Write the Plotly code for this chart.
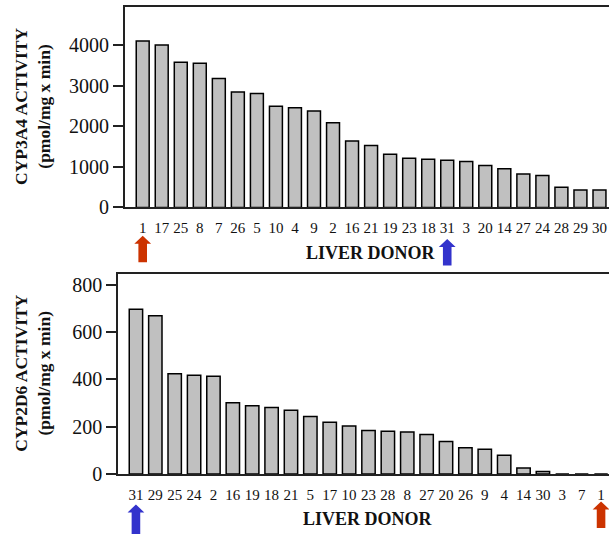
import plotly.graph_objects as go

W, H = 609, 542

# Top panel: CYP3A4
donors_3a4 = ["1", "17", "25", "8", "7", "26", "5", "10", "4", "9", "2", "16", "21",
              "19", "23", "18", "31", "3", "20", "14", "27", "24", "28", "29", "30"]
act_3a4 = [4100, 4000, 3580, 3555, 3175, 2845, 2810, 2490, 2455, 2375, 2085, 1635, 1527,
           1310, 1212, 1188, 1164, 1132, 1035, 955, 824, 785, 495, 430, 430]
ticks_3a4 = [0, 1000, 2000, 3000, 4000]

# Bottom panel: CYP2D6
donors_2d6 = ["31", "29", "25", "24", "2", "16", "19", "18", "21", "5", "17", "10", "23",
              "28", "8", "27", "20", "26", "9", "4", "14", "30", "3", "7", "1"]
act_2d6 = [696, 669, 423, 417, 413, 301, 288, 281, 269, 243, 218, 203, 184,
           180, 177, 167, 137, 111, 104, 79, 25, 10, 0, 0, 0]
ticks_2d6 = [0, 200, 400, 600, 800]

BAR = "#c0c0c0"
RED = "#cc3300"
BLUE = "#3333cc"
SERIF = "Liberation Serif"

# domains (pixel based)
x1dom = [125 / W, 1.0]
y1dom = [1 - 211.7 / H, 1 - 6.7 / H]
x2dom = [118.3 / W, 1.0]
y2dom = [1 - 483.7 / H, 1 - 279.3 / H]
x1rng = [-0.93, 24.5]
x2rng = [-0.91, 24.41]

fig = go.Figure()
fig.add_trace(go.Bar(x=donors_3a4, y=act_3a4, xaxis="x", yaxis="y",
                     marker=dict(color=BAR, line=dict(color="black", width=1.5)),
                     width=0.68, showlegend=False))
fig.add_trace(go.Bar(x=donors_2d6, y=act_2d6, xaxis="x2", yaxis="y2",
                     marker=dict(color=BAR, line=dict(color="black", width=1.5)),
                     width=0.69, showlegend=False))

axcommon = dict(showline=True, linecolor="#222", linewidth=2, showgrid=False, zeroline=False)
xtickfont = dict(family=SERIF, size=15, color="#111")
ytickfont = dict(family=SERIF, size=20, color="#111")
fig.update_layout(
    width=W, height=H, margin=dict(l=0, r=0, t=0, b=0),
    paper_bgcolor="white", plot_bgcolor="white",
    xaxis=dict(domain=x1dom, anchor="y", type="category", range=x1rng, mirror=True,
               ticks="", tickfont=xtickfont, ticklabelstandoff=6, **axcommon),
    yaxis=dict(domain=y1dom, anchor="x", range=[0, 4950], tickvals=ticks_3a4,
               ticks="outside", ticklen=10, tickwidth=2, tickcolor="#222",
               tickfont=ytickfont, **axcommon),
    xaxis2=dict(domain=x2dom, anchor="y2", type="category", range=x2rng, mirror=True,
                ticks="", tickfont=xtickfont, ticklabelstandoff=6, **axcommon),
    yaxis2=dict(domain=y2dom, anchor="x2", range=[0, 847], tickvals=ticks_2d6,
                ticks="outside", ticklen=10, tickwidth=2, tickcolor="#222",
                tickfont=ytickfont, **axcommon),
)

titlefont = dict(family=SERIF, size=17.5, color="#111")
fig.add_annotation(x=33 / W, y=(y1dom[0] + y1dom[1]) / 2, xref="paper", yref="paper",
                   text="<b>CYP3A4 ACTIVITY</b><br><b>(pmol/mg x min)</b>", textangle=-90,
                   showarrow=False, font=titlefont, xanchor="center", yanchor="middle")
fig.add_annotation(x=33 / W, y=(y2dom[0] + y2dom[1]) / 2, xref="paper", yref="paper",
                   text="<b>CYP2D6 ACTIVITY</b><br><b>(pmol/mg x min)</b>", textangle=-90,
                   showarrow=False, font=titlefont, xanchor="center", yanchor="middle")
fig.add_annotation(x=371 / W, y=1 - 258 / H, xref="paper", yref="paper",
                   text="<b>LIVER DONOR</b>", showarrow=False, xanchor="center", yanchor="middle",
                   font=dict(family=SERIF, size=18, color="#111"))
fig.add_annotation(x=368 / W, y=1 - 530 / H, xref="paper", yref="paper",
                   text="<b>LIVER DONOR</b>", showarrow=False, xanchor="center", yanchor="middle",
                   font=dict(family=SERIF, size=18, color="#111"))


def cat_to_paper(idx, dom, rng):
    return dom[0] + (idx - rng[0]) / (rng[1] - rng[0]) * (dom[1] - dom[0])


def arrow(xc, ytop_px, color, height=27):
    # xc in paper, y in pixels from top
    hw_shaft = 4.3 / W
    hw_head = 8.4 / W
    ytop = 1 - ytop_px / H
    yhead = 1 - (ytop_px + 8) / H
    ybot = 1 - (ytop_px + height) / H
    path = (f"M {xc - hw_shaft} {ybot} L {xc - hw_shaft} {yhead} L {xc - hw_head} {yhead} "
            f"L {xc} {ytop} L {xc + hw_head} {yhead} L {xc + hw_shaft} {yhead} "
            f"L {xc + hw_shaft} {ybot} Z")
    fig.add_shape(type="path", path=path, xref="paper", yref="paper",
                  fillcolor=color, line=dict(width=0))


# arrows mark donor 1 (red) and donor 31 (blue)
arrow(cat_to_paper(donors_3a4.index("1"), x1dom, x1rng), 240.7, RED)
arrow(cat_to_paper(donors_3a4.index("31"), x1dom, x1rng), 244, BLUE)
arrow(cat_to_paper(donors_2d6.index("31"), x2dom, x2rng), 515, BLUE, height=30)
arrow(cat_to_paper(donors_2d6.index("1"), x2dom, x2rng), 512, RED)

fig.write_html("out.html")
